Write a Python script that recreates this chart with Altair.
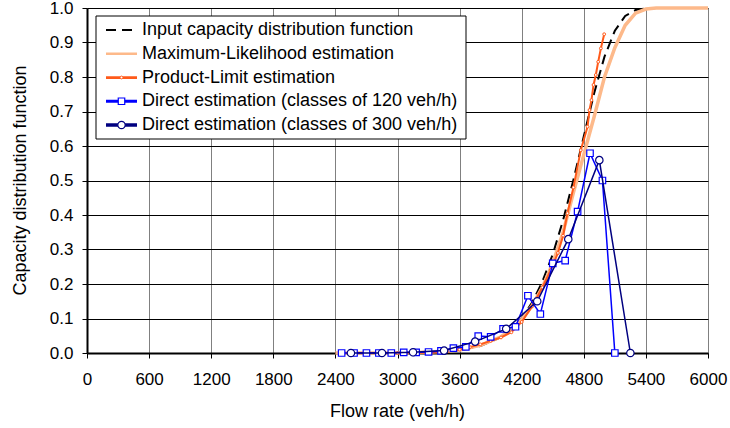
import altair as alt
import pandas as pd

# ---------------- data ----------------
series_names = [
    "Input capacity distribution function",
    "Maximum-Likelihood estimation",
    "Product-Limit estimation",
    "Direct estimation (classes of 120 veh/h)",
    "Direct estimation (classes of 300 veh/h)",
]
series_colors = ["#000000", "#FDB98A", "#FF5A1A", "#0000FF", "#000080"]

x_ticks = [0, 600, 1200, 1800, 2400, 3000, 3600, 4200, 4800, 5400, 6000]
y_ticks = [0.0, 0.1, 0.2, 0.3, 0.4, 0.5, 0.6, 0.7, 0.8, 0.9, 1.0]

input_x = [2400, 3000, 3200, 3400, 3600, 3800, 4000, 4100, 4200, 4300, 4400, 4500,
           4600, 4700, 4800, 4900, 5000, 5100, 5200, 5300, 5400, 5500, 6000]
input_y = [0.0, 0.0003, 0.001, 0.003, 0.008, 0.020, 0.046, 0.069, 0.101, 0.146, 0.207, 0.286,
           0.385, 0.502, 0.628, 0.753, 0.859, 0.934, 0.977, 0.994, 0.999, 1.0, 1.0]

ml_x = [2400, 2800, 3000, 3200, 3400, 3600, 3800, 4000, 4100, 4200, 4300, 4400, 4500,
        4600, 4700, 4800, 4900, 5000, 5100, 5200, 5300, 5400, 5500, 5600, 6000]
ml_y = [0.0, 0.0002, 0.0006, 0.0015, 0.004, 0.009, 0.022, 0.047, 0.068, 0.097, 0.137, 0.19, 0.26,
        0.35, 0.465, 0.575, 0.685, 0.80, 0.885, 0.95, 0.985, 0.997, 1.0, 1.0, 1.0]

pl_x = [2460, 2700, 3000, 3300, 3400, 3500, 3600, 3700, 3800, 3900, 4000, 4100, 4150, 4200,
        4300, 4400, 4480, 4550, 4600, 4642, 4700, 4771, 4836, 4855, 4874, 4894, 4916, 4939,
        4965, 4997]
pl_y = [0.0, 0.0, 0.0, 0.001, 0.002, 0.006, 0.010, 0.017, 0.025, 0.035, 0.045, 0.060, 0.075, 0.090,
        0.135, 0.190, 0.240, 0.290, 0.340, 0.405, 0.480, 0.588, 0.656, 0.704, 0.733, 0.777, 0.806,
        0.844, 0.883, 0.924]

d120_x = [2460, 2580, 2700, 2820, 2940, 3060, 3180, 3300, 3420, 3540, 3660, 3780, 3900, 4020,
          4140, 4260, 4380, 4500, 4620, 4740, 4860, 4980, 5100]
d120_y = [0.0, 0.0, 0.0, 0.0, 0.0, 0.002, 0.002, 0.003, 0.006, 0.014, 0.018, 0.049, 0.047, 0.070,
          0.076, 0.166, 0.113, 0.260, 0.268, 0.410, 0.579, 0.500, 0.0]

d300_x = [2550, 2850, 3150, 3450, 3750, 4050, 4350, 4650, 4950, 5250]
d300_y = [0.0, 0.0, 0.002, 0.007, 0.033, 0.070, 0.150, 0.330, 0.559, 0.0]

# ---------------- tables ----------------
df_in = pd.DataFrame({"x": input_x, "y": input_y})
df_ml = pd.DataFrame({"x": ml_x, "y": ml_y})
df_pl = pd.DataFrame({"x": pl_x, "y": pl_y})
df_120 = pd.DataFrame({"x": d120_x, "y": d120_y})
df_300 = pd.DataFrame({"x": d300_x, "y": d300_y})
df_leg = pd.DataFrame({"series": series_names})

FONT = "Liberation Sans"

X = alt.X(
    "x:Q",
    scale=alt.Scale(domain=[0, 6000], nice=False),
    axis=alt.Axis(
        values=x_ticks, title="Flow rate (veh/h)", format="d",
        labelFontSize=17, labelColor="#000", labelPadding=13, labelFlush=False,
        tickSize=5, tickColor="#000", tickWidth=1,
        domainColor="#000", domainWidth=2,
        grid=True, gridColor="#808080", gridWidth=1,
        titleFontSize=18, titleFontWeight="normal", titleColor="#000",
        titleX=310, titleY=58, titleAlign="center", titleBaseline="middle",
    ),
)
Y = alt.Y(
    "y:Q",
    scale=alt.Scale(domain=[0, 1], nice=False),
    axis=alt.Axis(
        values=y_ticks, format=".1f", title="Capacity distribution function",
        labelFontSize=17, labelColor="#000", labelPadding=9,
        tickSize=5, tickColor="#000", tickWidth=1,
        domainColor="#000", domainWidth=2,
        grid=True, gridColor="#000000", gridWidth=1,
        titleFontSize=18, titleFontWeight="normal", titleColor="#000",
        titleX=-67, titleY=172, titleAngle=-90, titleAlign="center", titleBaseline="middle",
    ),
)

l_in = alt.Chart(df_in).mark_line(color=series_colors[0], strokeWidth=2, strokeDash=[10, 6]).encode(x=X, y=Y)
l_ml = alt.Chart(df_ml).mark_line(color=series_colors[1], strokeWidth=3.5).encode(x=X, y=Y)
l_pl = alt.Chart(df_pl).mark_line(color=series_colors[2], strokeWidth=2).encode(x=X, y=Y)
p_pl = alt.Chart(df_pl).mark_point(shape="circle", filled=True, fill="white", stroke=series_colors[2],
                                   strokeWidth=1, size=8, opacity=1).encode(x=X, y=Y)
l_120 = alt.Chart(df_120).mark_line(color=series_colors[3], strokeWidth=1.5).encode(x=X, y=Y)
p_120 = alt.Chart(df_120).mark_point(shape="square", filled=True, fill="white", stroke=series_colors[3],
                                     strokeWidth=1.2, size=42, opacity=1).encode(x=X, y=Y)
l_300 = alt.Chart(df_300).mark_line(color=series_colors[4], strokeWidth=1.5).encode(x=X, y=Y)
p_300 = alt.Chart(df_300).mark_point(shape="circle", filled=True, fill="white", stroke=series_colors[4],
                                     strokeWidth=1.2, size=55, opacity=1).encode(x=X, y=Y)

main = alt.layer(l_in, l_ml, l_pl, p_pl, l_120, p_120, l_300, p_300)

# ---------------- legend (positions relative to the plot area) ----------------
LY = alt.Y("series:N", scale=alt.Scale(type="point", domain=series_names, range=[22, 117], padding=0),
           axis=None)
LC = alt.Color("series:N", scale=alt.Scale(domain=series_names, range=series_colors), legend=None)

box = alt.Chart(df_leg.head(1)).mark_rect(fill="white", stroke="#000", strokeWidth=1).encode(
    x=alt.value(9), x2=alt.value(379), y=alt.value(8), y2=alt.value(131))

leg_rule = alt.Chart(df_leg).mark_rule().encode(
    x=alt.value(19), x2=alt.value(50), y=LY, color=LC,
    strokeDash=alt.StrokeDash("series:N", scale=alt.Scale(domain=series_names,
                              range=[[10, 6], [1, 0], [1, 0], [1, 0], [1, 0]]), legend=None),
    strokeWidth=alt.StrokeWidth("series:N", scale=alt.Scale(domain=series_names,
                                range=[2, 3.5, 2, 1.5, 1.5]), legend=None),
)
leg_pl = alt.Chart(df_leg).transform_filter(alt.datum.series == series_names[2]).mark_point(
    shape="circle", filled=True, fill="white", stroke=series_colors[2], strokeWidth=1, size=8, opacity=1
).encode(x=alt.value(34.5), y=LY)
leg_120 = alt.Chart(df_leg).transform_filter(alt.datum.series == series_names[3]).mark_point(
    shape="square", filled=True, fill="white", stroke=series_colors[3], strokeWidth=1.2, size=42, opacity=1
).encode(x=alt.value(34.5), y=LY)
leg_300 = alt.Chart(df_leg).transform_filter(alt.datum.series == series_names[4]).mark_point(
    shape="circle", filled=True, fill="white", stroke=series_colors[4], strokeWidth=1.2, size=55, opacity=1
).encode(x=alt.value(34.5), y=LY)
leg_text = alt.Chart(df_leg).mark_text(align="left", baseline="middle", fontSize=18, color="#000",
                                       font=FONT).encode(
    x=alt.value(55), y=LY, text="series:N")

legend = alt.layer(box, leg_rule, leg_pl, leg_120, leg_300, leg_text)

chart = alt.layer(main, legend).resolve_scale(
    x="independent", y="independent"
).properties(
    width=621, height=345,
    autosize=alt.AutoSizeParams(type="none"),
    padding={"left": 87, "top": 8, "right": 22, "bottom": 75},
).configure(font=FONT, background="white").configure_view(strokeWidth=0)

chart.save("out.html", embed_options={"renderer": "svg", "actions": False})
